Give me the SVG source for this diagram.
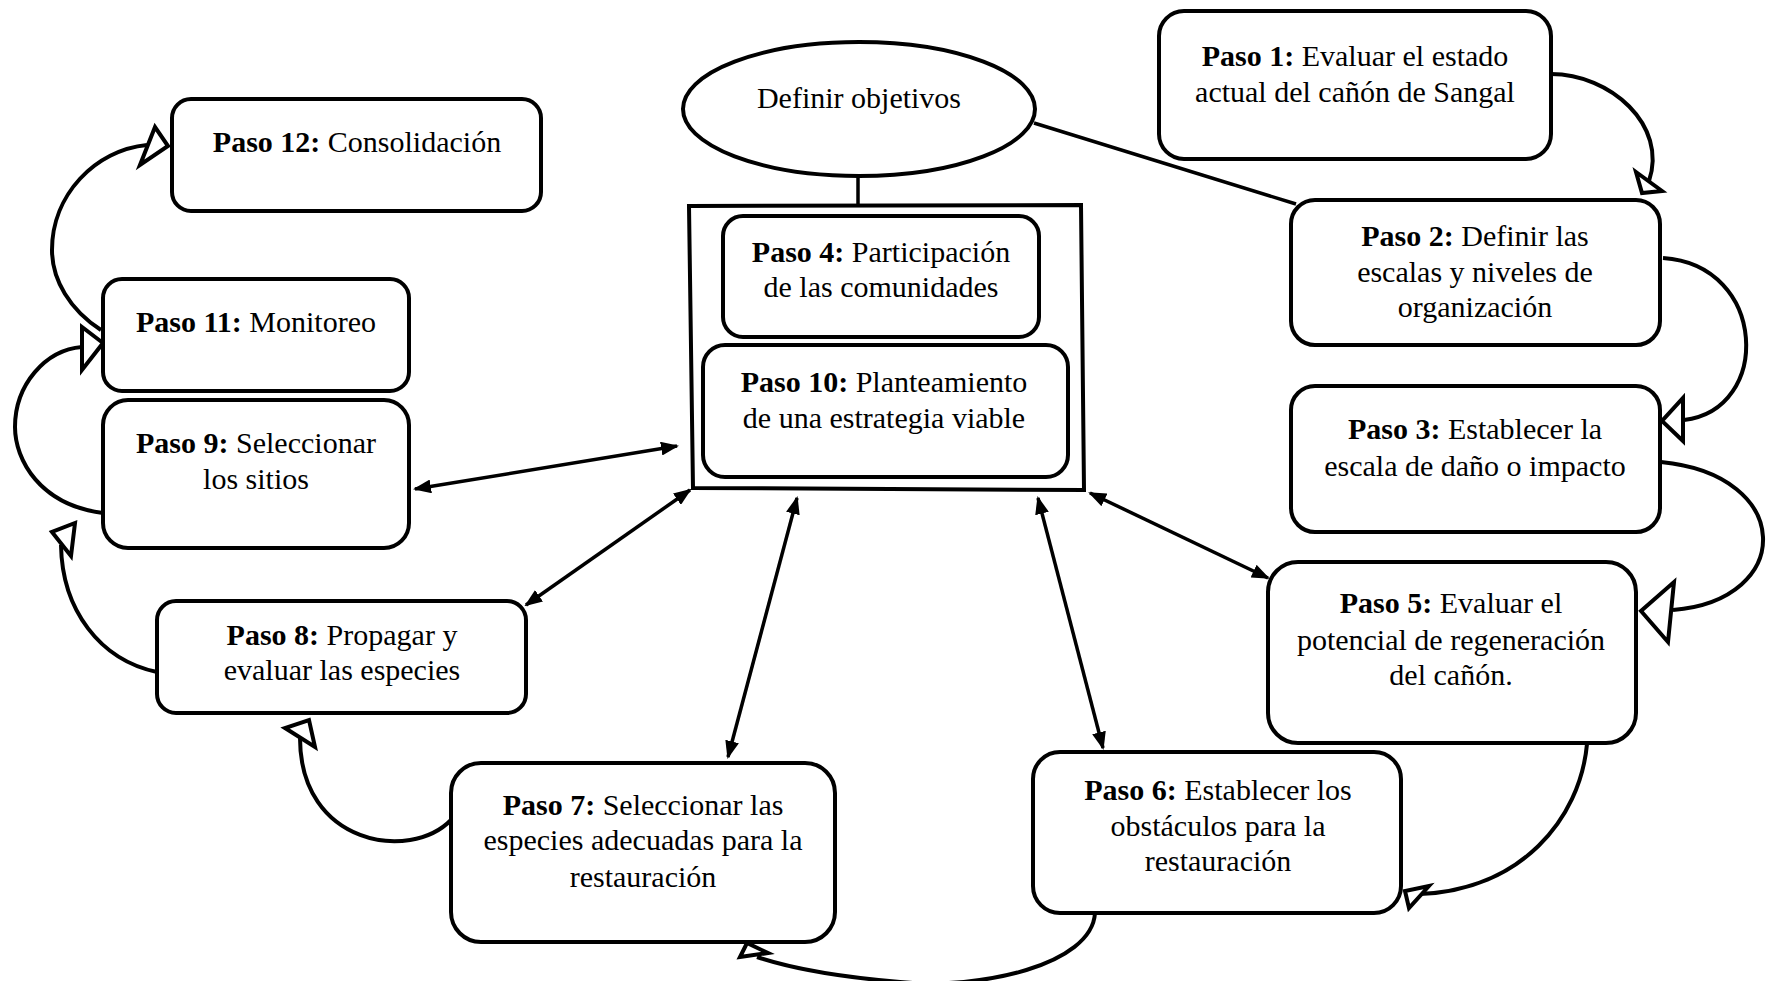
<svg xmlns="http://www.w3.org/2000/svg" width="1767" height="981" viewBox="0 0 1767 981">
<defs>
<style>
.box{fill:#fff;stroke:#000;stroke-width:4}
.t{font-family:"Liberation Serif","Times New Roman",serif;font-size:30px;fill:#000;text-anchor:middle}
.b{font-weight:bold}
.ln{fill:none;stroke:#000;stroke-width:3.5}
.cv{fill:none;stroke:#000;stroke-width:4}
.hd{fill:#fff;stroke:#000;stroke-width:4;stroke-linejoin:miter}
</style>
<marker id="ah" viewBox="0 0 18 14" refX="16" refY="7" markerWidth="18" markerHeight="14" markerUnits="userSpaceOnUse" orient="auto-start-reverse">
<path d="M0,0 L18,7 L0,14 z" fill="#000"/>
</marker>
</defs>
<rect width="1767" height="981" fill="#fff"/>

<g id="connectors">
<!-- ellipse links -->
<line class="ln" x1="858" y1="176" x2="858" y2="206"/>
<line class="ln" x1="1034" y1="123" x2="1296" y2="204"/>
<!-- bidirectional arrows -->
<line class="ln" x1="415" y1="489" x2="677" y2="446" marker-start="url(#ah)" marker-end="url(#ah)"/>
<line class="ln" x1="526" y1="605" x2="690" y2="490" marker-start="url(#ah)" marker-end="url(#ah)"/>
<line class="ln" x1="728" y1="757" x2="797" y2="498" marker-start="url(#ah)" marker-end="url(#ah)"/>
<line class="ln" x1="1038" y1="498" x2="1103" y2="748" marker-start="url(#ah)" marker-end="url(#ah)"/>
<line class="ln" x1="1090" y1="493" x2="1268" y2="578" marker-start="url(#ah)" marker-end="url(#ah)"/>
<!-- curved flow arrows -->
<path class="cv" d="M1551 74 C1610 74 1668 125 1649 181"/>
<polygon class="hd" points="1636,172 1662,191 1642,193"/>
<path class="cv" d="M1663 258 C1768 265 1772 410 1684 420"/>
<polygon class="hd" points="1683,398 1683,441 1662,421"/>
<path class="cv" d="M1661 462 C1795 475 1795 600 1673 610"/>
<polygon class="hd" points="1674,582 1668,642 1641,611"/>
<path class="cv" d="M1587 744 C1580 820 1520 890 1420 894"/>
<polygon class="hd" points="1429,886 1409,908 1405,891"/>
<path class="cv" d="M1095 913 C1092 965 980 990 900 982 C840 977 790 968 757 957"/>
<polygon class="hd" points="740,957 768,953 747,943"/>
<path class="cv" d="M451 820 C410 862 300 845 300 738"/>
<polygon class="hd" points="285,728 315,747 309,720"/>
<path class="cv" d="M157 672 C100 660 62 610 61 545"/>
<polygon class="hd" points="52,532 71,556 75,523"/>
<path class="cv" d="M103 513 C40 505 15 460 15 427 C15 385 45 350 82 347"/>
<polygon class="hd" points="82,327 82,370 103,343"/>
<path class="cv" d="M101 330 C70 310 52 280 52 250 C52 195 95 150 147 145"/>
<polygon class="hd" points="155,127 140,165 168,146"/>
</g>

<g id="objetivos">
<ellipse class="box" cx="859" cy="109" rx="176" ry="67"/>
<text class="t" x="859" y="108">Definir objetivos</text>
</g>

<g id="grupo-central">
<polygon class="box" points="689,206 1081,205 1084,490 693,488"/>
</g>

<g id="paso4">
<rect class="box" x="723" y="216" width="316" height="121" rx="20"/>
<text class="t" x="881" y="262"><tspan class="b">Paso 4:</tspan> Participación</text>
<text class="t" x="881" y="297">de las comunidades</text>
</g>

<g id="paso10">
<rect class="box" x="703" y="345" width="365" height="132" rx="22"/>
<text class="t" x="884" y="392"><tspan class="b">Paso 10:</tspan> Planteamiento</text>
<text class="t" x="884" y="428">de una estrategia viable</text>
</g>

<g id="paso1">
<rect class="box" x="1159" y="11" width="392" height="148" rx="25"/>
<text class="t" x="1355" y="66"><tspan class="b">Paso 1:</tspan> Evaluar el estado</text>
<text class="t" x="1355" y="102">actual del cañón de Sangal</text>
</g>

<g id="paso2">
<rect class="box" x="1291" y="200" width="369" height="145" rx="24"/>
<text class="t" x="1475" y="246"><tspan class="b">Paso 2:</tspan> Definir las</text>
<text class="t" x="1475" y="282">escalas y niveles de</text>
<text class="t" x="1475" y="317">organización</text>
</g>

<g id="paso3">
<rect class="box" x="1291" y="386" width="369" height="146" rx="24"/>
<text class="t" x="1475" y="439"><tspan class="b">Paso 3:</tspan> Establecer la</text>
<text class="t" x="1475" y="476">escala de daño o impacto</text>
</g>

<g id="paso5">
<rect class="box" x="1268" y="562" width="368" height="181" rx="30"/>
<text class="t" x="1451" y="613"><tspan class="b">Paso 5:</tspan> Evaluar el</text>
<text class="t" x="1451" y="650">potencial de regeneración</text>
<text class="t" x="1451" y="685">del cañón.</text>
</g>

<g id="paso6">
<rect class="box" x="1033" y="752" width="368" height="161" rx="27"/>
<text class="t" x="1218" y="800"><tspan class="b">Paso 6:</tspan> Establecer los</text>
<text class="t" x="1218" y="836">obstáculos para la</text>
<text class="t" x="1218" y="871">restauración</text>
</g>

<g id="paso7">
<rect class="box" x="451" y="763" width="384" height="179" rx="30"/>
<text class="t" x="643" y="815"><tspan class="b">Paso 7:</tspan> Seleccionar las</text>
<text class="t" x="643" y="850">especies adecuadas para la</text>
<text class="t" x="643" y="887">restauración</text>
</g>

<g id="paso8">
<rect class="box" x="157" y="601" width="369" height="112" rx="19"/>
<text class="t" x="342" y="645"><tspan class="b">Paso 8:</tspan> Propagar y</text>
<text class="t" x="342" y="680">evaluar las especies</text>
</g>

<g id="paso9">
<rect class="box" x="103" y="400" width="306" height="148" rx="25"/>
<text class="t" x="256" y="453"><tspan class="b">Paso 9:</tspan> Seleccionar</text>
<text class="t" x="256" y="489">los sitios</text>
</g>

<g id="paso11">
<rect class="box" x="103" y="279" width="306" height="112" rx="19"/>
<text class="t" x="256" y="332"><tspan class="b">Paso 11:</tspan> Monitoreo</text>
</g>

<g id="paso12">
<rect class="box" x="172" y="99" width="369" height="112" rx="19"/>
<text class="t" x="357" y="152"><tspan class="b">Paso 12:</tspan> Consolidación</text>
</g>
</svg>
